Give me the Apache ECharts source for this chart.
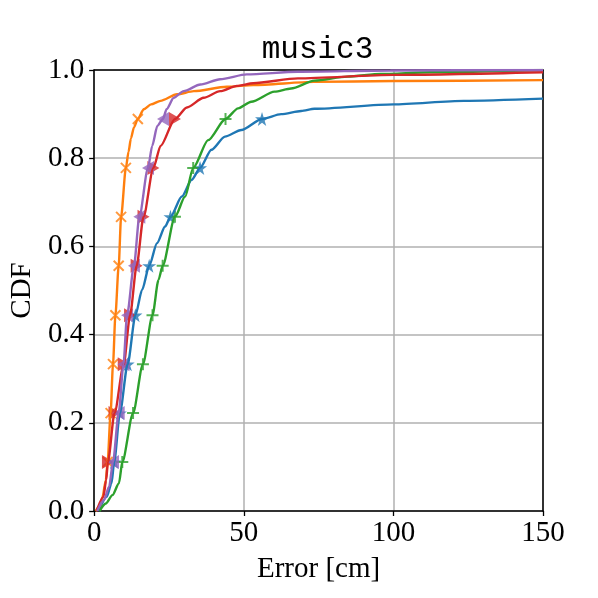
<!DOCTYPE html>
<html>
<head>
<meta charset="utf-8">
<script src="https://cdn.jsdelivr.net/npm/echarts@6/dist/echarts.min.js"></script>
<style>
html, body { margin: 0; padding: 0; background: #fff; }
#chart { width: 598px; height: 598px; }
</style>
</head>
<body>
<div id="chart"></div>
<script>
// cdf levels where the markers sit
var markLevels = [0.111, 0.222, 0.333, 0.444, 0.556, 0.667, 0.778, 0.889];

var xTicks = [0, 50, 100, 150];
var yTicks = [0.0, 0.2, 0.4, 0.6, 0.8, 1.0];

// blue (*)
var blueMarks = [6.7, 8.6, 11.2, 13.8, 18.4, 25.5, 35.4, 56.1];
var blueX = [1.5, 4.2, 5.8, 16.0, 21.0, 23.7, 29.3, 32.6, 39.2, 43.7, 49.2, 62.5, 69.2, 73.6, 100, 123.5, 150];
var blueY = [0, 0.032, 0.063, 0.501, 0.607, 0.645, 0.713, 0.751, 0.819, 0.849, 0.864, 0.900, 0.907, 0.912, 0.922, 0.930, 0.935];

// orange (x)
var orangeMarks = [4.5, 5.5, 6.3, 7.1, 8.2, 9.0, 10.6, 14.6];
var orangeX = [0.5, 2.0, 2.8, 3.9, 11.5, 12.3, 13.3, 16.6, 19.0, 22.2, 27.7, 33.3, 44.3, 53.2, 73.5, 100, 150];
var orangeY = [0, 0.012, 0.032, 0.070, 0.815, 0.845, 0.870, 0.911, 0.922, 0.930, 0.945, 0.952, 0.962, 0.966, 0.973, 0.975, 0.977];

// green (+)
var greenMarks = [9.4, 13.0, 16.3, 19.5, 22.9, 27.0, 33.1, 43.9];
var greenX = [1.8, 3.9, 6.1, 8.3, 21.5, 30.4, 38.1, 48.1, 52.5, 60.3, 65.8, 73.6, 84.7, 95.8, 112.4, 150];
var greenY = [0, 0.017, 0.036, 0.063, 0.524, 0.713, 0.841, 0.913, 0.928, 0.951, 0.958, 0.976, 0.985, 0.991, 0.995, 1.0];

// red (>)
var redMarks = [4.6, 6.8, 9.9, 12.0, 14.2, 16.5, 19.8, 27.0];
var redX = [0.8, 3.1, 4.0, 22.2, 31.0, 36.6, 42.1, 47.7, 53.2, 68.1, 100, 150];
var redY = [0, 0.032, 0.070, 0.828, 0.915, 0.937, 0.952, 0.964, 0.970, 0.981, 0.989, 0.995];

// purple (<)
var purpleMarks = [6.3, 8.2, 9.8, 11.0, 13.3, 15.1, 18.0, 23.0];
var purpleX = [1.0, 3.3, 5.0, 19.4, 21.1, 24.2, 26.6, 29.9, 35.5, 42.1, 51.0, 68.0, 99, 150];
var purpleY = [0, 0.025, 0.055, 0.828, 0.873, 0.911, 0.937, 0.952, 0.967, 0.979, 0.990, 0.996, 0.999, 1.0];

function markPoints(marks) {
  return marks.map(function (m, i) { return [m, markLevels[i]]; });
}
function linePoints(xs, ys, marks) {
  var pts = xs.map(function (x, i) { return [x, ys[i]]; }).concat(markPoints(marks));
  pts.sort(function (a, b) { return a[1] - b[1] || a[0] - b[0]; });
  return pts;
}

var starPath = 'path://M50,0L61,35L98,35L68,57L79,91L50,70L21,91L32,57L2,35L39,35Z';
var crossPath = 'path://M0,0L10,10M10,0L0,10';
var plusPath = 'path://M5,0L5,10M0,5L10,5';
var leftTri = 'path://M0,5L9,0L9,10Z';
var rightTri = 'path://M9,5L0,0L0,10Z';

var curves = [
  { c: '#1f77b4', x: blueX, y: blueY, m: blueMarks, sym: starPath, size: 14, stroke: false },
  { c: '#ff7f0e', x: orangeX, y: orangeY, m: orangeMarks, sym: crossPath, size: 10, stroke: true },
  { c: '#2ca02c', x: greenX, y: greenY, m: greenMarks, sym: plusPath, size: 12, stroke: true },
  { c: '#d62728', x: redX, y: redY, m: redMarks, sym: rightTri, size: [12, 14], stroke: false },
  { c: '#9467bd', x: purpleX, y: purpleY, m: purpleMarks, sym: leftTri, size: [12, 14], stroke: false }
];

var series = [];
curves.forEach(function (s) {
  series.push({
    type: 'line',
    data: linePoints(s.x, s.y, s.m),
    symbol: 'none',
    smooth: 0.25,
    smoothMonotone: 'x',
    lineStyle: { color: s.c, width: 2.4 },
    silent: true
  });
  series.push({
    type: 'scatter',
    data: markPoints(s.m),
    symbol: s.sym,
    symbolSize: s.size,
    itemStyle: s.stroke
      ? { color: 'rgba(0,0,0,0)', borderColor: s.c, borderWidth: 2 }
      : { color: s.c },
    silent: true
  });
});

var labelFont = { color: '#000', fontFamily: 'Liberation Serif', fontSize: 29 };
var spine = { show: true, onZero: false, lineStyle: { color: '#000', width: 1.5 } };

var myChart = echarts.init(document.getElementById('chart'));
myChart.setOption({
  animation: false,
  backgroundColor: '#fff',
  grid: { left: 92, right: 55, top: 70, bottom: 87 },
  graphic: [{
    type: 'text', x: 317.5, y: 50,
    style: { text: 'music3', fill: '#000', font: '31px "Liberation Mono"', textAlign: 'center', textVerticalAlign: 'middle' }
  }],
  xAxis: [{
    type: 'value', min: xTicks[0], max: xTicks[xTicks.length - 1], interval: 50,
    axisLine: spine,
    axisTick: { show: true, length: 5, lineStyle: { color: '#000', width: 1.3 } },
    axisLabel: Object.assign({ margin: 8 }, labelFont),
    splitLine: { show: true, lineStyle: { color: '#b0b0b0', width: 1.5 } },
    name: 'Error [cm]', nameLocation: 'middle', nameGap: 44,
    nameTextStyle: labelFont
  }, {
    type: 'value', position: 'top', min: 0, max: 150,
    axisLine: spine, axisTick: { show: false }, axisLabel: { show: false }, splitLine: { show: false }
  }],
  yAxis: [{
    type: 'value', min: yTicks[0], max: yTicks[yTicks.length - 1], interval: 0.2,
    axisLine: spine,
    axisTick: { show: true, length: 5, lineStyle: { color: '#000', width: 1.3 } },
    axisLabel: Object.assign({ margin: 10, formatter: function (v) { return v.toFixed(1); } }, labelFont),
    splitLine: { show: true, lineStyle: { color: '#b0b0b0', width: 1.5 } },
    name: 'CDF', nameLocation: 'middle', nameGap: 56, nameRotate: 90,
    nameTextStyle: labelFont
  }, {
    type: 'value', position: 'right', min: 0, max: 1,
    axisLine: spine, axisTick: { show: false }, axisLabel: { show: false }, splitLine: { show: false }
  }],
  series: series
});
</script>
</body>
</html>
